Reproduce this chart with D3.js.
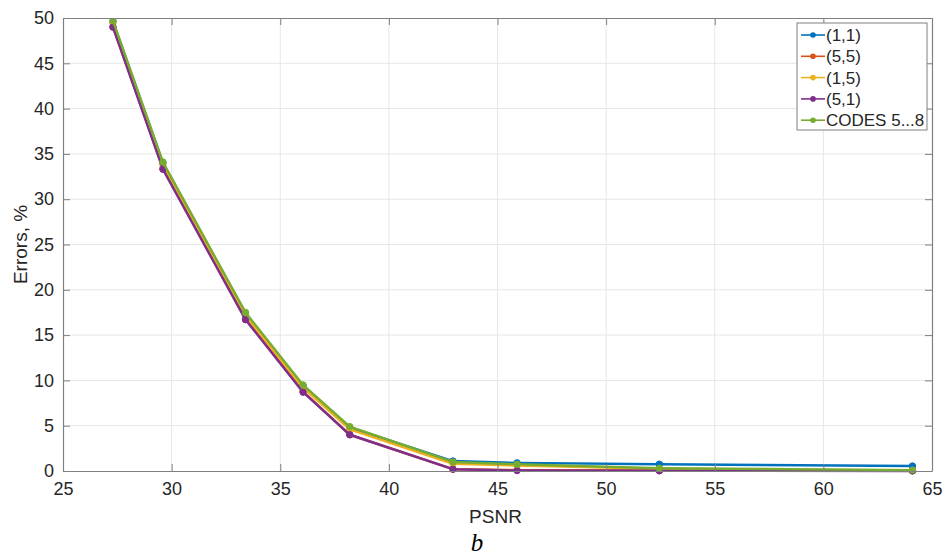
<!DOCTYPE html>
<html>
<head>
<meta charset="utf-8">
<script src="https://cdn.jsdelivr.net/npm/d3@7"></script>
<style>
  html, body { margin: 0; padding: 0; background: #fff; }
  svg { display: block; }
</style>
</head>
<body>
<svg id="chart" width="948" height="560"></svg>
<script>
const psnr = [27.3, 29.6, 33.4, 36.05, 38.2, 42.95, 45.9, 52.45, 64.1];
const seriesNames = ["(1,1)", "(5,5)", "(1,5)", "(5,1)", "CODES 5...8"];
const s11 = [49.6, 34.0, 17.3, 9.4, 4.8, 1.1, 0.9, 0.75, 0.55];
const s55 = [49.0, 33.4, 16.8, 8.8, 4.0, 0.2, 0.1, 0.05, 0.03];
const s15 = [49.4, 33.8, 17.2, 9.2, 4.6, 0.8, 0.6, 0.25, 0.05];
const s51 = [49.0, 33.3, 16.7, 8.7, 4.0, 0.2, 0.05, 0.02, 0.0];
const sCodes = [49.7, 34.1, 17.5, 9.5, 4.9, 1.0, 0.75, 0.3, 0.1];
const seriesColors = ["#0072BD", "#D95319", "#EDB120", "#7E2F8E", "#77AC30"];
const xTicks = [25, 30, 35, 40, 45, 50, 55, 60, 65];
const yTicks = [0, 5, 10, 15, 20, 25, 30, 35, 40, 45, 50];

const seriesValues = [s11, s55, s15, s51, sCodes];

const svg = d3.select("#chart");
const L = 63, R = 932, T = 18, B = 471;
const x = d3.scaleLinear().domain([25, 65]).range([L, R]);
const y = d3.scaleLinear().domain([0, 50]).range([B, T]);
const font = "'Liberation Sans', Arial, Helvetica, sans-serif";
const axisColor = "#808080";
const textColor = "#262626";

// grid
const grid = svg.append("g");
grid.selectAll("line.gx").data(xTicks.slice(1, -1)).join("line")
  .attr("x1", d => x(d)).attr("x2", d => x(d)).attr("y1", T).attr("y2", B)
  .attr("stroke", "#e6e6e6").attr("stroke-width", 1);
grid.selectAll("line.gy").data(yTicks.slice(1, -1)).join("line")
  .attr("x1", L).attr("x2", R).attr("y1", d => y(d)).attr("y2", d => y(d))
  .attr("stroke", "#e6e6e6").attr("stroke-width", 1);

// data
const clipId = "plotclip";
svg.append("clipPath").attr("id", clipId).append("rect")
  .attr("x", L - 6).attr("y", T).attr("width", R - L + 12).attr("height", B - T + 6);
const plot = svg.append("g").attr("clip-path", `url(#${clipId})`);
const line = d3.line().x((d, i) => x(psnr[i])).y(d => y(d));
seriesValues.forEach((vals, k) => {
  const g = plot.append("g");
  g.append("path").datum(vals).attr("d", line)
    .attr("fill", "none").attr("stroke", seriesColors[k]).attr("stroke-width", 2.4)
    .attr("stroke-linejoin", "round");
  g.selectAll("circle").data(vals).join("circle")
    .attr("cx", (d, i) => x(psnr[i])).attr("cy", d => y(d)).attr("r", 3.2)
    .attr("fill", seriesColors[k]).attr("stroke", seriesColors[k]).attr("stroke-width", 1);
});

// axes (box with inward ticks)
const axB = d3.axisBottom(x).tickValues(xTicks).tickSizeInner(-7).tickSizeOuter(0).tickPadding(11);
const axL = d3.axisLeft(y).tickValues(yTicks).tickSizeInner(-7).tickSizeOuter(0).tickPadding(9);
const axT = d3.axisTop(x).tickValues(xTicks).tickSizeInner(-7).tickSizeOuter(0).tickFormat("");
const axR = d3.axisRight(y).tickValues(yTicks).tickSizeInner(-7).tickSizeOuter(0).tickFormat("");

function style(g) {
  g.selectAll("path.domain").attr("stroke", axisColor).attr("stroke-width", 1.2);
  g.selectAll(".tick line").attr("stroke", axisColor);
  g.selectAll(".tick text").attr("fill", textColor).style("font-family", font).style("font-size", "18px");
}
svg.append("g").attr("transform", `translate(0,${B})`).call(axB).call(style);
svg.append("g").attr("transform", `translate(${L},0)`).call(axL).call(style);
svg.append("g").attr("transform", `translate(0,${T})`).call(axT).call(style);
svg.append("g").attr("transform", `translate(${R},0)`).call(axR).call(style);

// axis labels
svg.append("text").attr("x", (L + R) / 2 - 2).attr("y", 523).attr("text-anchor", "middle")
  .style("font-family", font).style("font-size", "19px").attr("fill", textColor).text("PSNR");
svg.append("text").attr("transform", `translate(27,${(T + B) / 2}) rotate(-90)`)
  .attr("text-anchor", "middle").style("font-family", font).style("font-size", "19px")
  .attr("fill", textColor).text("Errors, %");
svg.append("text").attr("x", 477).attr("y", 551).attr("text-anchor", "middle")
  .style("font-family", "'Liberation Serif', 'Times New Roman', serif").style("font-style", "italic")
  .style("font-size", "25px").attr("fill", "#000").text("b");

// legend
const lg = svg.append("g").attr("transform", "translate(797,23)");
lg.append("rect").attr("width", 130).attr("height", 107).attr("fill", "#fff")
  .attr("stroke", axisColor).attr("stroke-width", 1);
seriesNames.forEach((name, k) => {
  const yy = 12 + k * 21.3;
  lg.append("line").attr("x1", 4).attr("x2", 28).attr("y1", yy).attr("y2", yy)
    .attr("stroke", seriesColors[k]).attr("stroke-width", 1.6);
  lg.append("circle").attr("cx", 16).attr("cy", yy).attr("r", 2.8).attr("fill", seriesColors[k]);
  lg.append("text").attr("x", 29).attr("y", yy).attr("dy", "0.36em")
    .style("font-family", font).style("font-size", "17px").attr("fill", textColor).text(name);
});
</script>
</body>
</html>
